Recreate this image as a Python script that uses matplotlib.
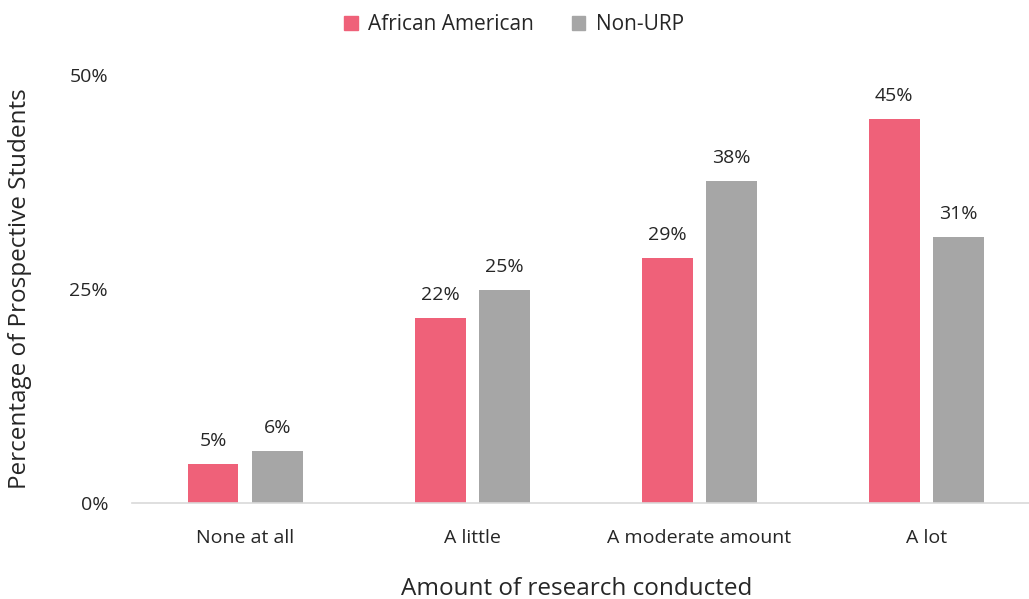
import matplotlib
matplotlib.use("Agg")
import matplotlib.pyplot as plt
import numpy as np
from matplotlib.patches import Patch

categories = ["None at all", "A little", "A moderate amount", "A lot"]
series_names = ["African American", "Non-URP"]
aa_values = [4.6, 21.6, 28.6, 44.9]
nonurp_values = [6.1, 24.9, 37.6, 31.1]
aa_labels = ["5%", "22%", "29%", "45%"]
nonurp_labels = ["6%", "25%", "38%", "31%"]
yticks = [0, 25, 50]
ytick_labels = ["0%", "25%", "50%"]

colors = ["#EF6179", "#A6A6A6"]
plt.rcParams['font.family'] = ['Open Sans', 'DejaVu Sans']

W, H = 1029, 599
fig = plt.figure(figsize=(W/100, H/100), dpi=100)
left, right = 131.7, 1040.0
bottom, top = 503, 75
ax = fig.add_axes([left/W, 1-bottom/H, (right-left)/W, (bottom-top)/H])

x = np.arange(len(categories))
bw = 0.224
off = 0.142
b1 = ax.bar(x-off, aa_values, bw, color=colors[0], zorder=2)
b2 = ax.bar(x+off, nonurp_values, bw, color=colors[1], zorder=2)
for bars, labs in ((b1, aa_labels), (b2, nonurp_labels)):
    for r, t in zip(bars, labs):
        ax.annotate(t, (r.get_x()+r.get_width()/2, r.get_height()), xytext=(0, 10),
                    textcoords="offset points", ha="center", va="bottom",
                    fontsize=14, color="#262626")

ax.set_xlim(-0.5, len(categories)-0.5)
ax.set_ylim(0, 50)
ax.set_yticks(yticks)
ax.set_yticklabels(ytick_labels)
ax.set_xticks(x)
ax.set_xticklabels(categories)
ax.tick_params(axis='both', length=0, labelsize=14, colors="#262626")
ax.tick_params(axis='y', pad=17)
ax.tick_params(axis='x', pad=19)
for s in ["top", "right", "left"]:
    ax.spines[s].set_visible(False)
ax.spines["bottom"].set_color("#D9D9D9")
ax.spines["bottom"].set_linewidth(1.2)

fig.text(20/W, 1-289/H, "Percentage of Prospective Students", rotation=90,
         ha="center", va="center", fontsize=17.5, color="#262626")
fig.text(577/W, 1-589/H, "Amount of research conducted", ha="center", va="center",
         fontsize=17.5, color="#262626")

handles = [Patch(color=c) for c in colors]
fig.legend(handles, series_names, loc="center", bbox_to_anchor=(514/W, 1-25/H),
           ncol=2, frameon=False, fontsize=15, handlelength=0.65, handleheight=0.65,
           handletextpad=0.5, columnspacing=1.8, labelcolor="#262626")

fig.savefig("out.png", dpi=100)
